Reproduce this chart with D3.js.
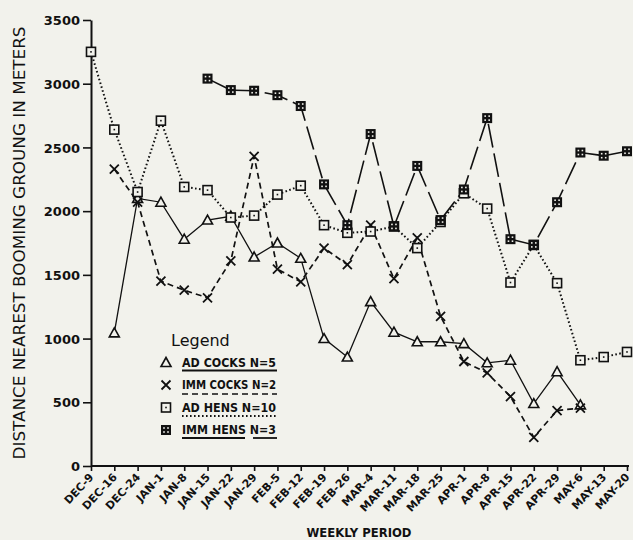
<!DOCTYPE html>
<html>
<head>
<meta charset="utf-8">
<script src="https://cdn.jsdelivr.net/npm/d3@7"></script>
<style>
  body { margin: 0; background: #f2f2ec; }
  svg { display: block; }
  text { fill: #111; }
</style>
</head>
<body>
<div id="chart"></div>
<script>
// Weekly periods on the x axis
const weeks = ["DEC-9", "DEC-16", "DEC-24", "JAN-1", "JAN-8", "JAN-15", "JAN-22", "JAN-29",
  "FEB-5", "FEB-12", "FEB-19", "FEB-26", "MAR-4", "MAR-11", "MAR-18", "MAR-25",
  "APR-1", "APR-8", "APR-15", "APR-22", "APR-29", "MAY-6", "MAY-13", "MAY-20"];

// Distance (m) per group, null = no data that week
const adCocks = [null, 1045, 2100, 2070, 1780, 1930, 1960, 1640, 1750, 1630, 1000, 855,
  1290, 1050, 975, 975, 960, 810, 830, 490, 740, 480, null, null];
const immCocks = [null, 2330, 2070, 1450, 1380, 1320, 1610, 2430, 1545, 1445, 1710, 1580,
  1890, 1470, 1790, 1175, 820, 730, 545, 225, 435, 455, null, null];
const adHens = [3250, 2640, 2150, 2710, 2190, 2165, 1950, 1965, 2130, 2200, 1890, 1830,
  1840, 1880, 1710, 1915, 2140, 2020, 1440, 1735, 1435, 830, 855, 895];
const immHens = [null, null, null, null, null, 3040, 2950, 2945, 2910, 2825, 2210, 1890,
  2605, 1880, 2355, 1930, 2170, 2730, 1780, 1735, 2070, 2460, 2435, 2470];

const yTicks = [0, 500, 1000, 1500, 2000, 2500, 3000, 3500];

const legendLabels = ["AD COCKS N=5", "IMM COCKS N=2", "AD HENS N=10", "IMM HENS N=3"];

const svgWidth = 633, svgHeight = 540;

const svg = d3.select("#chart")
  .append("svg")
  .attr("width", svgWidth)
  .attr("height", svgHeight);

// Scales
const x = d3.scalePoint()
  .domain(weeks)
  .range([91, 627]);

const y = d3.scaleLinear()
  .domain([0, 3500])
  .range([466, 20]);

// Series styles
const series = [
  { name: "adCocks", values: adCocks, dash: null, width: 1.3, marker: "triangle" },
  { name: "immCocks", values: immCocks, dash: "6,4", width: 1.7, marker: "cross" },
  { name: "adHens", values: adHens, dash: "1.6,2.4", width: 2, marker: "square" },
  { name: "immHens", values: immHens, dash: "24,6", width: 1.6, marker: "filled" }
];

// Y axis
const yAxis = svg.append("g")
  .attr("transform", "translate(91,0)")
  .call(d3.axisLeft(y).tickValues(yTicks).tickFormat(d3.format("d"))
    .tickSize(8).tickSizeOuter(0).tickPadding(3));
yAxis.select(".domain").attr("stroke-width", 2).attr("stroke", "#111");
yAxis.selectAll(".tick line").attr("stroke-width", 1.6).attr("stroke", "#111");
yAxis.selectAll(".tick text")
  .attr("font-family", "DejaVu Sans")
  .attr("font-weight", "bold")
  .attr("font-size", 13)
  .attr("dy", "0.36em");

// X axis
const xAxis = svg.append("g")
  .attr("transform", "translate(0,466)")
  .call(d3.axisBottom(x).tickSize(5).tickSizeOuter(0));
xAxis.select(".domain").attr("stroke-width", 2).attr("stroke", "#111")
  .attr("d", "M91,0H629");
xAxis.selectAll(".tick line").attr("stroke-width", 1.6).attr("stroke", "#111");
xAxis.selectAll(".tick text")
  .attr("font-family", "DejaVu Sans")
  .attr("font-weight", "bold")
  .attr("font-size", 11)
  .attr("text-anchor", "end")
  .attr("transform", "translate(0,9) rotate(-47)")
  .attr("x", 0)
  .attr("y", 0)
  .attr("dy", "0.35em");

// Lines
series.forEach(s => {
  const line = d3.line()
    .defined(d => d != null)
    .x((d, i) => x(weeks[i]))
    .y(d => y(d));
  svg.append("path")
    .datum(s.values)
    .attr("fill", "none")
    .attr("stroke", "#111")
    .attr("stroke-width", s.width)
    .attr("stroke-dasharray", s.dash)
    .attr("d", line);
});

// Marker drawing
function drawMarker(g, type) {
  if (type === "triangle") {
    g.append("path")
      .attr("d", "M0,-5L5,4H-5Z")
      .attr("fill", "#f2f2ec").attr("stroke", "#111").attr("stroke-width", 1.6);
  } else if (type === "cross") {
    g.append("path")
      .attr("d", "M-4.5,-4.5L4.5,4.5M-4.5,4.5L4.5,-4.5")
      .attr("stroke", "#111").attr("stroke-width", 1.8);
  } else if (type === "square") {
    g.append("rect")
      .attr("x", -4.5).attr("y", -4.5).attr("width", 9).attr("height", 9)
      .attr("fill", "#f2f2ec").attr("stroke", "#111").attr("stroke-width", 1.6);
    g.append("rect")
      .attr("x", -0.8).attr("y", -0.8).attr("width", 1.6).attr("height", 1.6)
      .attr("fill", "#111");
  } else {
    g.append("rect")
      .attr("x", -5).attr("y", -5).attr("width", 10).attr("height", 10)
      .attr("fill", "#111");
    [[-2, -2], [2, -2], [-2, 2], [2, 2]].forEach(p => {
      g.append("rect")
        .attr("x", p[0] - 0.8).attr("y", p[1] - 0.8)
        .attr("width", 1.6).attr("height", 1.6)
        .attr("fill", "#f2f2ec");
    });
  }
}

series.forEach(s => {
  s.values.forEach((v, i) => {
    if (v == null) return;
    const g = svg.append("g")
      .attr("transform", `translate(${x(weeks[i])},${y(v)})`);
    drawMarker(g, s.marker);
  });
});

// Y axis title
svg.append("text")
  .attr("transform", "translate(25,243) rotate(-90)")
  .attr("text-anchor", "middle")
  .attr("font-family", "DejaVu Sans")
  .attr("font-size", 16)
  .attr("textLength", 433)
  .attr("lengthAdjust", "spacingAndGlyphs")
  .text("DISTANCE NEAREST BOOMING GROUNG IN METERS");

// X axis title
svg.append("text")
  .attr("x", 359)
  .attr("y", 537)
  .attr("text-anchor", "middle")
  .attr("font-family", "DejaVu Sans")
  .attr("font-weight", "bold")
  .attr("font-size", 12)
  .attr("textLength", 105)
  .attr("lengthAdjust", "spacingAndGlyphs")
  .text("WEEKLY PERIOD");

// Legend
const legend = svg.append("g");
legend.append("text")
  .attr("x", 171)
  .attr("y", 346)
  .attr("font-family", "DejaVu Sans")
  .attr("font-size", 16)
  .text("Legend");

const rowY = [366.5, 389, 411.5, 434];
legendLabels.forEach((label, i) => {
  const gm = legend.append("g")
    .attr("transform", `translate(166,${rowY[i] - 4})`);
  drawMarker(gm, series[i].marker);
  legend.append("text")
    .attr("x", 182)
    .attr("y", rowY[i])
    .attr("font-family", "DejaVu Sans")
    .attr("font-weight", "bold")
    .attr("font-size", 11.5)
    .attr("textLength", 94)
    .attr("lengthAdjust", "spacingAndGlyphs")
    .text(label);
});

// Legend underlines in each series' line style
const underline = (x1, x2, yy, s, w) => legend.append("line")
  .attr("x1", x1).attr("x2", x2).attr("y1", yy).attr("y2", yy)
  .attr("stroke", "#111").attr("stroke-width", w || s.width)
  .attr("stroke-dasharray", s.dash);
underline(182, 277, rowY[0] + 4, series[0], 2);
underline(182, 277, rowY[1] + 5, series[1], 1.6);
underline(182, 276, rowY[2] + 4.5, series[2], 1.8);
underline(182, 245, rowY[3] + 4, { dash: null }, 1.8);
underline(253, 277, rowY[3] + 4, { dash: null }, 1.8);
</script>
</body>
</html>
